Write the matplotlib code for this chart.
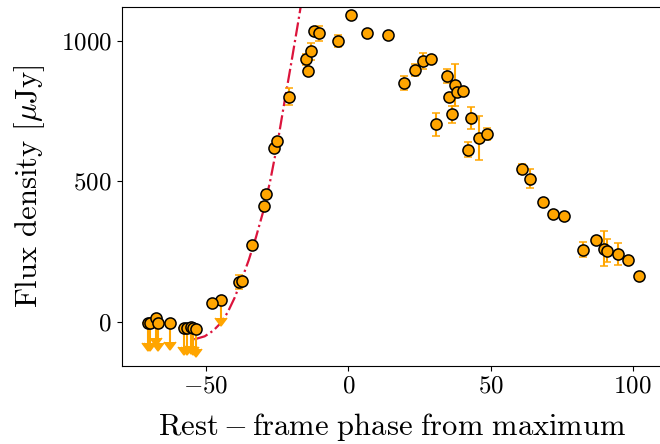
import matplotlib
matplotlib.use("Agg")
import matplotlib.pyplot as plt
import numpy as np

plt.rcParams['font.family'] = 'serif'
plt.rcParams['font.serif'] = ['cmr10']
plt.rcParams['mathtext.fontset'] = 'cm'
plt.rcParams['axes.formatter.use_mathtext'] = True
plt.rcParams['axes.unicode_minus'] = True

# detections: phase (days), flux (uJy), 1-sigma error
phase = [-47.8, -38.3, -37.5, -33.9, -29.6, -28.9, -26.1, -25.2, -20.7, -14.9,
         -14.1, -13.1, -12.1, -10.3, -3.7, 0.95, 6.6, 14.1, 19.7, 23.5,
         26.2, 29.1, 30.9, 34.7, 35.5, 36.6, 37.5, 38.3, 40.2, 42.1,
         43.0, 45.8, 48.8, 61.0, 63.8, 68.5, 72.1, 75.8, 82.4, 87.2,
         90.0, 91.0, 94.7, 98.5, 102.2]
flux = [68, 142, 145, 273, 410, 455, 619, 643, 801, 934,
        893, 963, 1036, 1026, 1000, 1091, 1027, 1020, 851, 896,
        928, 936, 702, 874, 800, 738, 842, 818, 821, 612,
        725, 653, 668, 542, 509, 426, 382, 375, 256, 291,
        260, 253, 241, 220, 161]
flux_err = [0, 25, 0, 10, 15, 15, 15, 10, 30, 20,
            0, 30, 0, 28, 22, 0, 0, 0, 25, 22,
            30, 0, 42, 25, 0, 31, 75, 0, 0, 27,
            38, 79, 21, 18, 34, 12, 0, 0, 27, 0,
            62, 40, 38, 0, 0]

# upper limits
ul_phase = [-70.6, -69.7, -67.6, -66.8, -62.7, -57.7, -56.8, -55.3, -54.5, -53.6, -44.8]
ul_flux = [-6, -6, 12, -6, -4, -21, -21, -18, -21, -27, 77]
ul_len = [70, 70, 70, 70, 70, 70, 70, 70, 70, 70, 65]

# rise model
model_phase = [-54.2, -50.5, -47.5, -45, -42.5, -40, -37.5, -35, -32.5, -30,
               -27.5, -25, -22.5, -20, -17.5, -16.3]
model_flux = [-63, -52, -32, -6, 32, 85, 150, 220, 300, 390,
              500, 630, 780, 925, 1075, 1150]

fig = plt.figure(figsize=(6.6, 4.44), dpi=100)
ax = fig.add_axes([0.1844, 0.1764, 0.8208, 0.8072])

ax.plot(model_phase, model_flux, color='crimson', ls='-.', lw=1.6, zorder=1)

ax.errorbar(ul_phase, ul_flux, yerr=ul_len, uplims=True, fmt='o', ms=8,
            color='orange', mfc='orange', mec='k', mew=1.1, ecolor='orange',
            elinewidth=1.5, capsize=4, zorder=2)
ax.errorbar(phase, flux, yerr=flux_err, fmt='o', ms=8,
            color='orange', mfc='orange', mec='k', mew=1.1, ecolor='orange',
            elinewidth=1.5, capsize=3, capthick=1.5, zorder=3)

ax.set_xlim(-79.7, 110.8)
ax.set_ylim(-156.6, 1119)
ax.set_xticks([-50, 0, 50, 100])
ax.set_yticks([0, 500, 1000])
ax.tick_params(labelsize=18)

ax.set_xlabel(r'$\rm Rest - frame\ phase\ from\ maximum$', fontsize=22, labelpad=10)
ax.set_ylabel(r'Flux density [$\mu$Jy]', fontsize=22, labelpad=10)

fig.savefig('out.png', dpi=100)
